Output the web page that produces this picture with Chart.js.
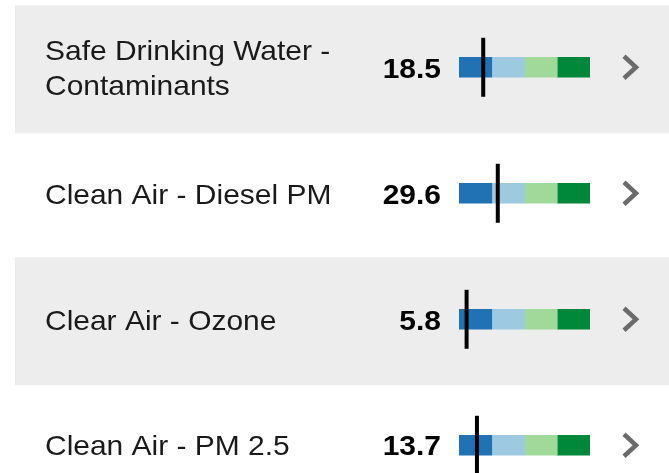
<!DOCTYPE html>
<html>
<head>
<meta charset="utf-8">
<script src="https://cdn.jsdelivr.net/npm/chart.js@4"></script>
<style>
  html, body { margin: 0; padding: 0; background: #fff; overflow: hidden; }
  canvas { display: block; }
</style>
</head>
<body>
<canvas id="indicators" width="669" height="473"></canvas>
<script>
// indicator rows, top to bottom
const categories = [
  ['Safe Drinking Water -', 'Contaminants'],
  ['Clean Air - Diesel PM'],
  ['Clear Air - Ozone'],
  ['Clean Air - PM 2.5'],
];
const scores = [18.5, 29.6, 5.8, 13.7];

// percentile bands behind each marker
const bandEdges = [0, 25, 50, 75, 100];
const bandColors = ['#2171b5', '#9ecae1', '#a1d99b', '#00883a'];

const TEXT_STRETCH = 1.07;

const drawStretched = (ctx, text, x, y, align) => {
  ctx.save();
  ctx.translate(x, y);
  ctx.scale(TEXT_STRETCH, 1);
  ctx.textAlign = align;
  ctx.fillText(text, 0, 0);
  ctx.restore();
};

const rowsPlugin = {
  id: 'rows',
  beforeDatasetsDraw(chart) {
    const { ctx, scales: { y } } = chart;
    ctx.save();
    ctx.fillStyle = '#ededed';
    categories.forEach((_, i) => {
      if (i % 2) return;
      const cy = y.getPixelForValue(i);
      ctx.fillRect(15, cy - 62, chart.width - 15, 128);
    });
    ctx.restore();
  },
  afterDatasetsDraw(chart) {
    const { ctx, scales: { y } } = chart;
    ctx.save();
    ctx.textBaseline = 'middle';
    categories.forEach((lines, i) => {
      const cy = y.getPixelForValue(i) + 2.5;
      const lineH = 35;
      const top = cy - (lines.length - 1) * lineH / 2;

      ctx.fillStyle = '#1a1a1a';
      ctx.font = '28px Arial, "Liberation Sans", sans-serif';
      lines.forEach((line, k) => drawStretched(ctx, line, 45, top + k * lineH, 'left'));

      ctx.fillStyle = '#000';
      ctx.font = 'bold 28px Arial, "Liberation Sans", sans-serif';
      drawStretched(ctx, scores[i].toFixed(1), 441, cy, 'right');

      // chevron
      const by = y.getPixelForValue(i);
      ctx.strokeStyle = '#6b6b6b';
      ctx.lineWidth = 4.5;
      ctx.lineJoin = 'miter';
      ctx.beginPath();
      ctx.moveTo(624, by - 11);
      ctx.lineTo(636, by);
      ctx.lineTo(624, by + 11);
      ctx.stroke();
    });
    ctx.restore();
  }
};

const bandSets = bandColors.map((color, j) => ({
  type: 'bar',
  indexAxis: 'y',
  data: categories.map((_, i) => ({ y: i, x: [bandEdges[j], bandEdges[j + 1]] })),
  backgroundColor: color,
  barThickness: 20,
  grouped: false,
  order: 2,
}));

new Chart(document.getElementById('indicators'), {
  type: 'bar',
  data: {
    datasets: [
      ...bandSets,
      {
        type: 'scatter',
        indexAxis: 'x',
        data: scores.map((s, i) => ({ x: s, y: i })),
        pointStyle: 'line',
        rotation: 90,
        pointRadius: 29.5,
        pointHoverRadius: 29.5,
        borderColor: '#000',
        borderWidth: 4,
        clip: false,
        order: 1,
      }
    ]
  },
  options: {
    responsive: false,
    animation: false,
    layout: { autoPadding: false, padding: { left: 459, right: 79, top: 0, bottom: 0 } },
    scales: {
      x: { type: 'linear', min: 0, max: 100, offset: false, display: false },
      y: { type: 'linear', min: -0.534, max: 3.22, reverse: true, offset: false, display: false },
    },
    plugins: {
      legend: { display: false },
      tooltip: { enabled: false },
    },
  },
  plugins: [rowsPlugin],
});
</script>
</body>
</html>
